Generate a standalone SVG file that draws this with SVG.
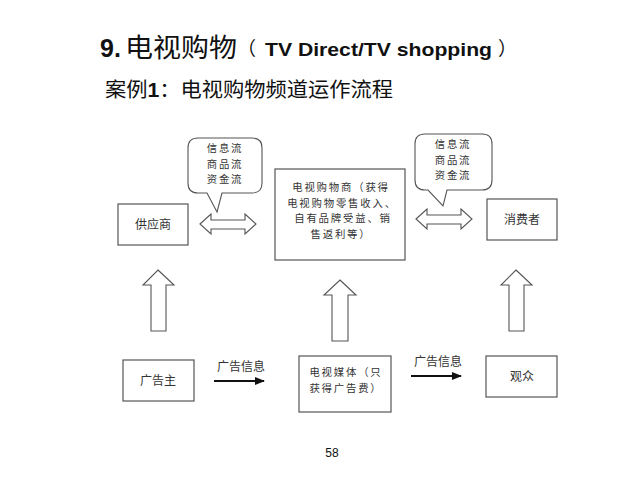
<svg xmlns="http://www.w3.org/2000/svg" width="640" height="480" viewBox="0 0 640 480">
<defs>
<marker id="ah" viewBox="0 0 10 10" refX="9" refY="5" markerWidth="5" markerHeight="5" orient="auto" markerUnits="strokeWidth">
<path d="M0,1 L10,5 L0,9 z" fill="#111"/>
</marker>
</defs>
<style>
.box{fill:#fff;stroke:#555;stroke-width:1.2}
.shape{fill:#fff;stroke:#555;stroke-width:1.1}
.t{font-family:"Noto Sans CJK SC","Noto Sans",sans-serif;font-size:12px;fill:#333;text-anchor:middle}
.s{font-size:10.4px;letter-spacing:1.8px}
.line{stroke:#111;stroke-width:2;fill:none}
</style>
<rect width="640" height="480" fill="#fff"/>
<g id="title">
<text x="100" y="57" font-family="Liberation Sans,Arial,sans-serif" font-weight="bold" font-size="25" fill="#111">9.</text>
<text x="125" y="57" font-family="Noto Sans CJK SC,sans-serif" font-size="26" fill="#111" textLength="112" lengthAdjust="spacingAndGlyphs">电视购物</text>
<text x="237" y="56" font-family="Noto Sans CJK SC,sans-serif" font-size="19" fill="#111">（</text>
<text x="265" y="56" font-family="Liberation Sans,Arial,sans-serif" font-weight="bold" font-size="19" fill="#111" textLength="227" lengthAdjust="spacingAndGlyphs">TV Direct/TV shopping</text>
<text x="498" y="56" font-family="Noto Sans CJK SC,sans-serif" font-size="19" fill="#111">）</text>
</g>
<g id="subtitle">
<text x="105" y="97" font-family="Noto Sans CJK SC,sans-serif" font-size="20" fill="#111" textLength="288" lengthAdjust="spacingAndGlyphs">案例<tspan font-family="Liberation Sans,Arial,sans-serif" font-weight="bold">1</tspan>：电视购物频道运作流程</text>
</g>
<g id="connectors">
<path class="shape" d="M200,224 L211,214 L211,220 L245,220 L245,214 L256,224 L245,234 L245,229 L211,229 L211,234 Z"/>
<path class="shape" d="M416,219 L427,209 L427,215 L461,215 L461,209 L472,219 L461,229 L461,224 L427,224 L427,229 Z"/>
<path class="shape" d="M158,270 L174,285 L166,285 L166,331 L151,331 L151,285 L143,285 Z"/>
<path class="shape" d="M340,280 L356,295 L348,295 L348,341 L332,341 L332,295 L324,295 Z"/>
<path class="shape" d="M516,270 L532,285 L524,285 L524,331 L509,331 L509,285 L501,285 Z"/>
<line class="line" x1="214" y1="381" x2="264" y2="381" marker-end="url(#ah)"/>
<line class="line" x1="411" y1="376" x2="461" y2="376" marker-end="url(#ah)"/>
<text class="t" x="241" y="371">广告信息</text>
<text class="t" x="438" y="366">广告信息</text>
</g>
<g id="bubble-left">
<path class="shape" d="M198,138 L252,138 Q262,138 262,148 L262,183 Q262,193 252,193 L222,193 L217,212 L207,193 L198,193 Q188,193 188,183 L188,148 Q188,138 198,138 Z"/>
<text class="t s" x="225" y="152">信息流</text>
<text class="t s" x="225" y="167.5">商品流</text>
<text class="t s" x="225" y="183">资金流</text>
</g>
<g id="bubble-right">
<path class="shape" d="M425,134 L482,134 Q492,134 492,144 L492,180 Q492,190 482,190 L447,190 L443,206 L428,190 L425,190 Q415,190 415,180 L415,144 Q415,134 425,134 Z"/>
<text class="t s" x="453" y="148">信息流</text>
<text class="t s" x="453" y="163.5">商品流</text>
<text class="t s" x="453" y="179">资金流</text>
</g>
<g id="supplier">
<rect class="box" x="118" y="204" width="70" height="41"/>
<text class="t" x="153" y="229">供应商</text>
</g>
<g id="merchant">
<rect class="box" x="275" y="169" width="130" height="91"/>
<text class="t s" x="341" y="191">电视购物商（获得</text>
<text class="t s" x="342" y="206.5">电视购物零售收入、</text>
<text class="t s" x="343" y="222">自有品牌受益、销</text>
<text class="t s" x="341" y="237.5">售返利等）</text>
</g>
<g id="consumer">
<rect class="box" x="487" y="199" width="70" height="41"/>
<text class="t" x="522" y="224">消费者</text>
</g>
<g id="advertiser">
<rect class="box" x="123" y="360" width="71" height="41"/>
<text class="t" x="158" y="385">广告主</text>
</g>
<g id="media">
<rect class="box" x="299" y="356" width="92" height="56"/>
<text class="t s" x="346" y="376">电视媒体（只</text>
<text class="t s" x="346" y="391.5">获得广告费）</text>
</g>
<g id="audience">
<rect class="box" x="486" y="356" width="71" height="41"/>
<text class="t" x="522" y="381">观众</text>
</g>
<text x="332" y="457" font-family="Liberation Sans,Arial,sans-serif" font-size="12" fill="#111" text-anchor="middle">58</text>
</svg>
